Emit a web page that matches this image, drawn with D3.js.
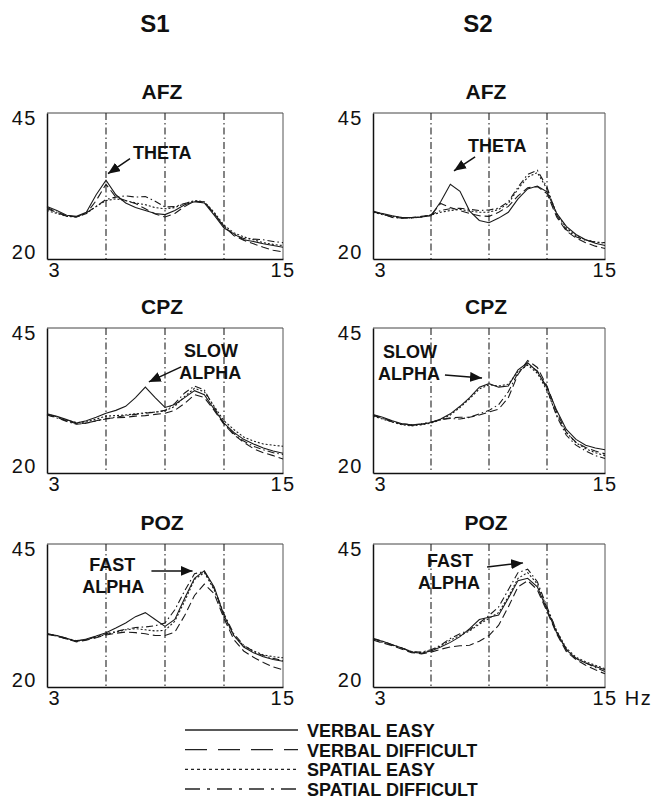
<!DOCTYPE html>
<html>
<head>
	<script src="https://d3js.org/d3.v7.min.js"></script>
	<style>
		body { margin: 0; background: #fff; }
		text { font-family: "Liberation Sans", Arial, sans-serif; fill: #111; }
		.title { font-size: 24px; font-weight: bold; }
		.ptitle { font-size: 21px; font-weight: bold; }
		.tick text { font-size: 20px; letter-spacing: 1.5px; }
		.note { font-size: 18px; font-weight: bold; }
		.leg { font-size: 18px; font-weight: bold; }
	</style>
</head>
<body>
	<div id="chart"></div>

	<script type="text/javascript">
		// frequency grid (Hz)
		var freqs = [3,3.5,4,4.5,5,5.5,6,6.5,7,7.5,8,8.5,9,9.5,10,10.5,11,11.5,12,12.5,13,13.5,14,14.5,15];

		var seriesNames = ["VERBAL EASY","VERBAL DIFFICULT","SPATIAL EASY","SPATIAL DIFFICULT"];
		var subjects = ["S1","S2"];
		var sites = ["AFZ","CPZ","POZ"];
		var yTicks = [20,45];
		var xTicks = [3,15];
		var bandLines = [6,9,12];

		// S1 AFZ
		var s1AfzVE = [29.0,28.3,27.5,27.3,28.0,31.0,33.5,31.0,29.6,28.8,28.3,27.8,27.6,28.3,29.3,29.8,29.6,27.5,25.3,24.3,23.3,23.0,22.6,22.3,22.0];
		var s1AfzVD = [28.6,28.0,27.4,27.2,27.8,30.0,32.8,30.6,30.0,29.5,28.6,27.7,27.2,27.8,29.0,29.9,29.8,27.8,25.6,24.0,23.2,22.6,22.0,21.5,21.2];
		var s1AfzSE = [28.3,27.8,27.3,27.2,27.8,29.0,30.0,30.3,30.0,29.6,29.3,28.8,28.6,28.8,29.5,30.0,29.8,28.0,25.8,24.5,23.8,23.3,22.8,22.5,22.3];
		var s1AfzSD = [28.8,28.0,27.3,27.2,27.9,29.0,30.2,30.6,30.8,30.6,30.7,29.9,28.9,29.0,29.5,29.9,29.7,27.8,25.5,24.2,23.5,23.4,23.3,23.0,22.8];
		// S2 AFZ
		var s2AfzVE = [28.0,27.8,27.4,27.1,27.1,27.2,27.4,29.8,32.8,31.6,28.2,26.6,26.2,27.0,28.0,30.3,32.0,32.5,31.5,27.8,25.6,24.2,23.3,22.7,22.3];
		var s2AfzVD = [28.1,27.7,27.2,27.0,27.1,27.3,27.5,29.5,28.8,28.3,27.8,27.4,27.3,28.0,29.0,30.8,32.2,32.4,31.2,27.2,24.8,23.6,22.8,22.2,21.8];
		var s2AfzSE = [28.0,27.6,27.3,27.1,27.0,27.2,27.5,28.0,28.3,28.5,28.2,28.0,28.0,28.5,29.5,32.0,34.0,34.8,32.0,27.8,25.3,24.0,23.3,22.9,22.7];
		var s2AfzSD = [28.2,27.7,27.1,27.0,27.0,27.2,27.6,28.3,28.6,28.7,28.5,28.3,28.4,28.7,29.8,32.3,34.5,35.2,32.3,27.5,25.0,23.8,23.2,22.9,22.8];
		// S1 CPZ
		var s1CpzVE = [30.2,29.8,29.2,28.6,29.0,29.6,30.3,30.8,31.5,33.0,34.8,33.0,31.3,31.8,33.0,34.2,33.5,31.0,28.6,27.0,25.8,25.0,24.3,23.8,23.4];
		var s1CpzVD = [30.0,29.6,29.0,28.5,28.6,29.0,29.4,29.5,29.6,29.8,29.9,30.1,30.3,30.8,32.0,33.5,33.0,30.8,28.4,26.6,25.3,24.2,23.5,23.0,22.4];
		var s1CpzSE = [30.1,29.7,29.1,28.7,28.8,29.3,29.8,29.9,30.0,30.2,30.4,30.5,30.7,31.5,33.2,34.6,34.0,31.5,29.0,27.5,26.2,25.5,25.0,24.8,24.6];
		var s1CpzSD = [30.0,29.5,28.9,28.4,28.6,29.0,29.3,29.6,29.9,30.1,30.3,30.5,30.8,32.0,33.8,35.0,34.3,31.3,28.5,26.8,25.5,24.6,24.0,23.5,23.2];
		// S2 CPZ
		var s2CpzVE = [30.1,29.6,29.0,28.5,28.3,28.4,28.7,29.3,30.2,31.5,33.0,34.8,35.4,34.8,35.0,37.8,39.0,37.5,34.8,30.8,27.5,25.8,24.8,24.3,24.0];
		var s2CpzVD = [30.0,29.5,28.9,28.4,28.2,28.4,28.7,29.2,29.5,29.6,29.6,30.0,30.5,31.0,33.0,37.0,39.4,38.2,35.0,30.5,27.0,25.3,24.4,23.8,23.3];
		var s2CpzSE = [29.8,29.3,28.8,28.3,28.1,28.3,28.6,29.2,30.0,31.3,32.8,34.5,35.2,35.0,35.3,37.5,38.6,37.2,34.2,30.0,27.0,25.2,24.2,23.5,23.0];
		var s2CpzSD = [29.9,29.4,28.8,28.5,28.3,28.5,28.8,29.2,29.4,29.3,29.6,30.2,30.8,31.8,34.0,37.3,38.8,37.6,34.5,29.8,26.5,24.8,23.8,23.0,22.5];
		// S1 POZ
		var s1PozVE = [29.3,29.0,28.5,28.0,28.4,28.9,29.5,30.3,31.2,32.3,33.0,31.8,30.6,31.8,35.5,39.0,40.3,37.5,32.5,29.0,27.0,26.0,25.3,24.8,24.5];
		var s1PozVD = [29.2,28.9,28.4,27.9,28.2,28.6,29.1,29.4,29.6,29.5,29.3,29.0,29.0,29.6,32.5,36.0,38.0,36.3,32.0,28.3,26.3,25.2,24.3,23.5,23.0];
		var s1PozSE = [29.3,28.9,28.4,28.0,28.3,28.7,29.2,29.6,30.0,30.2,30.0,29.8,29.9,31.5,35.0,38.8,40.0,37.0,32.3,29.0,27.2,26.3,25.6,25.3,25.1];
		var s1PozSD = [29.3,29.0,28.5,28.1,28.3,28.8,29.3,29.7,30.1,30.4,30.5,30.7,31.2,33.5,36.8,39.8,40.2,37.2,32.8,29.3,27.3,26.2,25.5,25.0,24.6];
		// S2 POZ
		var s2PozVE = [28.4,28.0,27.4,26.8,26.1,25.9,26.3,27.0,27.8,28.8,30.2,31.8,32.2,32.6,35.5,38.6,39.0,37.5,33.5,29.5,26.5,25.0,24.2,23.6,23.0];
		var s2PozVD = [28.2,27.7,27.2,26.6,26.0,25.8,26.1,26.6,27.0,27.2,27.3,28.0,29.0,30.8,34.0,37.5,38.6,37.0,33.2,29.3,26.2,24.8,23.8,23.0,22.3];
		var s2PozSE = [28.3,27.8,27.3,26.8,26.2,26.0,26.4,27.2,28.2,29.0,29.8,31.0,32.0,33.0,35.8,39.0,40.0,38.0,33.8,29.8,26.8,25.2,24.4,23.8,23.2];
		var s2PozSD = [28.5,28.0,27.4,26.8,26.2,26.1,26.5,27.3,28.5,29.3,30.0,31.2,32.5,34.0,37.0,40.0,40.6,38.4,34.0,29.8,26.6,25.0,24.2,23.4,22.7];

		// annotation labels, in data units (Hz, value)
		var notes = [
			{col:0,row:0,lines:["THETA"],tx:7.37,ty:37.2,from:[7.22,37.2],to:[6.1,34.6]},
			{col:1,row:0,lines:["THETA"],tx:7.91,ty:38.3,from:[8.28,37.5],to:[7.19,35.1]},
			{col:0,row:1,lines:["SLOW","ALPHA"],tx:9.97,ty:40.0,dx2:-0.25,from:[9.82,38.3],to:[8.18,35.7]},
			{col:1,row:1,lines:["SLOW","ALPHA"],tx:3.52,ty:39.8,dx2:-0.26,from:[6.72,36.9],to:[8.64,36.4]},
			{col:0,row:2,lines:["FAST","ALPHA"],tx:5.15,ty:40.3,dx2:-0.36,from:[8.31,40.3],to:[10.4,40.3]},
			{col:1,row:2,lines:["FAST","ALPHA"],tx:5.79,ty:41.0,dx2:-0.46,from:[8.9,41.0],to:[10.76,41.7]}
		];

		var plotDash = [null,"8,4","2,2","7,3,1.5,3"];
		var legDash = [null,"22,11","3,3","15,7,3,7"];

		var colX = [[47,283],[373,605]];
		var rowY = [[113,259],[328,473],[544,687]];

		var panels = [
			{col:0,row:0,series:[s1AfzVE,s1AfzVD,s1AfzSE,s1AfzSD]},
			{col:1,row:0,series:[s2AfzVE,s2AfzVD,s2AfzSE,s2AfzSD]},
			{col:0,row:1,series:[s1CpzVE,s1CpzVD,s1CpzSE,s1CpzSD]},
			{col:1,row:1,series:[s2CpzVE,s2CpzVD,s2CpzSE,s2CpzSD]},
			{col:0,row:2,series:[s1PozVE,s1PozVD,s1PozSE,s1PozSD]},
			{col:1,row:2,series:[s2PozVE,s2PozVD,s2PozSE,s2PozSD]}
		];

		var svg = d3.select("#chart")
			.append("svg")
			.attr("width",660)
			.attr("height",806);

		svg.append("defs").append("marker")
			.attr("id","arrow")
			.attr("markerUnits","userSpaceOnUse")
			.attr("markerWidth",14)
			.attr("markerHeight",10)
			.attr("refX",12)
			.attr("refY",5)
			.attr("orient","auto")
			.append("path")
			.attr("d","M0,0 L12,5 L0,10 z")
			.attr("fill","#111");

		// subject headings
		svg.selectAll(".title")
			.data(subjects)
			.enter().append("text")
			.attr("class","title")
			.attr("x",function(d,i){ return [155,478][i]; })
			.attr("y",32)
			.attr("text-anchor","middle")
			.text(function(d){ return d; });

		panels.forEach(function(p){
			var x = d3.scaleLinear().domain([3,15]).range(colX[p.col]);
			var y = d3.scaleLinear().domain([20,45]).range([rowY[p.row][1],rowY[p.row][0]]);
			var g = svg.append("g");

			g.append("text")
				.attr("class","ptitle")
				.attr("x",(colX[p.col][0]+colX[p.col][1])/2 - 3)
				.attr("y",rowY[p.row][0]-14)
				.attr("text-anchor","middle")
				.text(sites[p.row]);

			// frame: top/right light, left/bottom are the axes
			g.append("line")
				.attr("x1",x(3)).attr("x2",x(15)).attr("y1",y(45)).attr("y2",y(45))
				.attr("stroke","#444").attr("stroke-width",1);
			g.append("line")
				.attr("x1",x(15)).attr("x2",x(15)).attr("y1",y(45)).attr("y2",y(20))
				.attr("stroke","#555").attr("stroke-width",1);

			g.selectAll(".band")
				.data(bandLines)
				.enter().append("line")
				.attr("x1",function(d){ return x(d); })
				.attr("x2",function(d){ return x(d); })
				.attr("y1",y(45)).attr("y2",y(20))
				.attr("stroke","#222")
				.attr("stroke-width",1.1)
				.attr("stroke-dasharray","7,3,1.5,3");

			var yAxis = g.append("g")
				.attr("transform","translate(" + x(3) + ",0)")
				.call(d3.axisLeft(y).tickValues(yTicks).tickSize(0).tickPadding(10));
			yAxis.select(".domain").attr("stroke","#111").attr("stroke-width",1.5);
			yAxis.selectAll(".tick text")
				.attr("dy",function(d){ return d == 45 ? "0.55em" : "-0.05em"; })
				.attr("font-family",null).attr("font-size",null).attr("fill",null);

			var xAxis = g.append("g")
				.attr("transform","translate(0," + y(20) + ")")
				.call(d3.axisBottom(x).tickValues(xTicks).tickSize(0).tickPadding(4));
			xAxis.select(".domain").attr("stroke","#111").attr("stroke-width",1.5);
			xAxis.selectAll(".tick text")
				.attr("text-anchor","start")
				.attr("dx",function(d){ return d == 3 ? 1 : -13; })
				.attr("font-family",null).attr("font-size",null).attr("fill",null)
				.text(function(d){ return (d == 15 && p.col == 1 && p.row == 2) ? "15 Hz" : d; });

			var line = d3.line()
				.x(function(d,i){ return x(freqs[i]); })
				.y(function(d){ return y(d); });

			g.selectAll(".curve")
				.data(p.series)
				.enter().append("path")
				.attr("class","curve")
				.attr("d",line)
				.attr("fill","none")
				.attr("stroke","#1a1a1a")
				.attr("stroke-width",1.1)
				.attr("stroke-dasharray",function(d,i){ return plotDash[i]; });

			notes.filter(function(n){ return n.col == p.col && n.row == p.row; }).forEach(function(n){
				n.lines.forEach(function(t,k){
					g.append("text")
						.attr("class","note")
						.attr("x",x(n.tx + (k ? n.dx2 : 0)))
						.attr("y",y(n.ty) + k*22)
						.text(t);
				});
				g.append("line")
					.attr("x1",x(n.from[0])).attr("y1",y(n.from[1]))
					.attr("x2",x(n.to[0])).attr("y2",y(n.to[1]))
					.attr("stroke","#111").attr("stroke-width",1.5)
					.attr("marker-end","url(#arrow)");
			});
		});

		// legend
		var legY = d3.scalePoint().domain(seriesNames).range([730,789]);
		var leg = svg.append("g");
		leg.selectAll("line")
			.data(seriesNames)
			.enter().append("line")
			.attr("x1",185).attr("x2",298)
			.attr("y1",function(d){ return legY(d); })
			.attr("y2",function(d){ return legY(d); })
			.attr("stroke","#222")
			.attr("stroke-width",1.3)
			.attr("stroke-dasharray",function(d,i){ return legDash[i]; });
		leg.selectAll("text")
			.data(seriesNames)
			.enter().append("text")
			.attr("class","leg")
			.attr("x",307)
			.attr("y",function(d){ return legY(d) + 7; })
			.text(function(d){ return d; });
	</script>
</body>
</html>
